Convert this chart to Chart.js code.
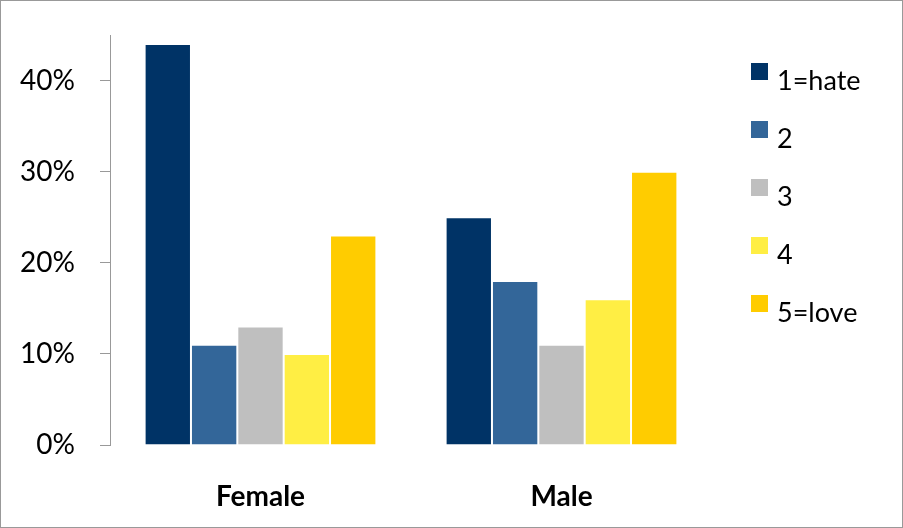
<!DOCTYPE html>
<html>
<head>
<meta charset="utf-8">
<script src="https://cdn.jsdelivr.net/npm/chart.js@4/dist/chart.umd.min.js"></script>
<style>
  html, body { margin: 0; padding: 0; background: #fff; }
  #wrap { position: relative; width: 903px; height: 528px; box-sizing: border-box; border: 1px solid #999; }
  canvas { display: block; }
</style>
</head>
<body>
<div id="wrap"><canvas id="c" width="901" height="526"></canvas></div>
<script>
const categories = ["Female", "Male"];
const seriesNames = ["1=hate", "2", "3", "4", "5=love"];
const hateValues = [44, 25];
const twoValues = [11, 18];
const threeValues = [13, 11];
const fourValues = [10, 16];
const loveValues = [23, 30];
const seriesColors = ["#003366", "#336699", "#BFBFBF", "#FFEE44", "#FFCC00"];
const yTickValues = [0, 10, 20, 30, 40];

const seriesValues = [hateValues, twoValues, threeValues, fourValues, loveValues];
const FONT = "Lato, 'Open Sans', sans-serif";

const legendPlugin = {
  id: 'customLegend',
  afterDraw(chart) {
    const ctx = chart.ctx;
    ctx.save();
    chart.data.datasets.forEach((ds, i) => {
      const x = 750, y = 62 + i * 58;
      ctx.fillStyle = ds.backgroundColor;
      ctx.fillRect(x, y, 17, 17);
      ctx.fillStyle = '#000';
      ctx.font = '27px ' + FONT;
      ctx.textBaseline = 'alphabetic';
      ctx.textAlign = 'left';
      ctx.fillText(ds.label, x + 26, y + 27);
    });
    ctx.restore();
  }
};

new Chart(document.getElementById('c'), {
  type: 'bar',
  data: {
    labels: categories,
    datasets: seriesNames.map((name, i) => ({
      label: name,
      data: seriesValues[i],
      backgroundColor: seriesColors[i],
      borderColor: '#ffffff',
      borderWidth: 1,
      borderSkipped: 'bottom',
      categoryPercentage: 0.77,
      barPercentage: 1.0
    }))
  },
  options: {
    responsive: false,
    animation: false,
    layout: { padding: { left: 0, right: 190, top: 34, bottom: 0 } },
    plugins: { legend: { display: false }, tooltip: { enabled: false } },
    scales: {
      x: {
        grid: { display: false, drawTicks: false },
        border: { display: false },
        ticks: { color: '#000', font: { family: FONT, size: 28, weight: 'bold' }, padding: 35 },
        afterFit(scale) { scale.height = 526 - 444; scale.paddingLeft = 0; scale.paddingRight = 0; }
      },
      y: {
        min: 0,
        max: 45,
        afterBuildTicks(scale) { scale.ticks = yTickValues.map(v => ({ value: v })); },
        ticks: {
          color: '#000',
          font: { family: FONT, size: 28 },
          padding: 25,
          callback: v => v + '%'
        },
        grid: { drawOnChartArea: false, drawTicks: true, tickLength: 10, color: '#999' },
        border: { display: true, color: '#999', width: 1 },
        afterFit(scale) { scale.width = 109; scale.paddingTop = 0; scale.paddingBottom = 0; }
      }
    }
  },
  plugins: [legendPlugin]
});
</script>
</body>
</html>
